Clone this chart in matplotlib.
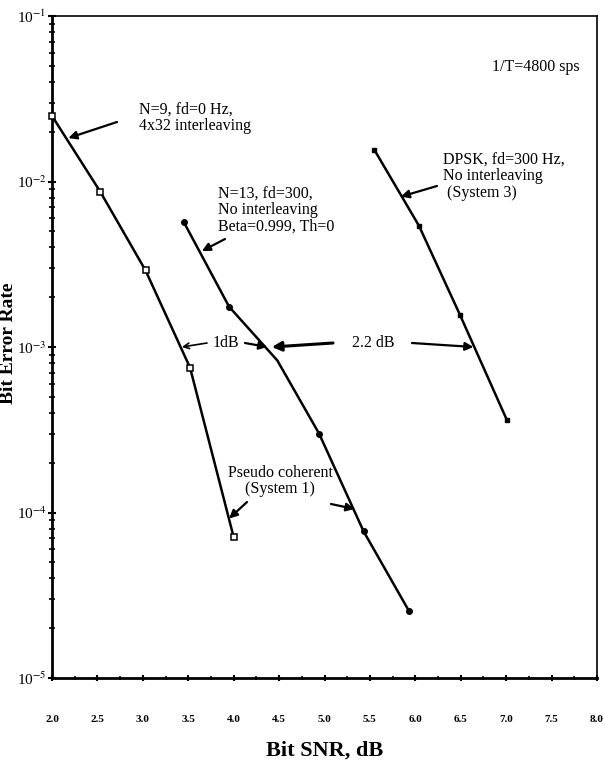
import matplotlib
matplotlib.use('Agg')
import matplotlib.pyplot as plt
from matplotlib.ticker import FixedLocator, LogLocator, NullFormatter

plt.rcParams['font.family'] = ['Liberation Serif', 'DejaVu Serif']
plt.rcParams['mathtext.fontset'] = 'stix'

# - Data
snr_n9 = [2.0, 2.53, 3.03, 3.52, 4.0]
ber_n9 = [0.0249, 0.0087, 0.0029, 0.00075, 0.000071]

snr_n13 = [3.45, 3.95, 4.48, 4.94, 5.43, 5.93]
ber_n13 = [0.0057, 0.00175, 0.00083, 0.0003, 0.000077, 0.0000254]
n13_marked = [True, True, False, True, True, True]

snr_dpsk = [5.55, 6.04, 6.49, 7.01]
ber_dpsk = [0.0155, 0.0054, 0.00157, 0.00036]

x_ticks = [2.0, 2.5, 3.0, 3.5, 4.0, 4.5, 5.0, 5.5, 6.0, 6.5, 7.0, 7.5, 8.0]
y_ticks = [1e-5, 1e-4, 1e-3, 1e-2, 1e-1]
y_tick_labels = ['10$^{-5}$', '10$^{-4}$', '10$^{-3}$', '10$^{-2}$', '10$^{-1}$']

W, H = 605, 762
fig = plt.figure(figsize=(W / 100, H / 100), dpi=100)
ax = fig.add_axes([52 / W, 1 - 678 / H, (597 - 52) / W, (678 - 16) / H])

ax.set_yscale('log')
ax.set_xlim(2.0, 8.0)
ax.set_ylim(1e-5, 1e-1)

# curves
ax.plot(snr_n9, ber_n9, color='black', lw=1.8, zorder=2)
ax.plot(snr_n9, ber_n9, ls='none', marker='s', ms=4.5, mfc='white',
        mec='black', mew=1.1, zorder=3, clip_on=False)

ax.plot(snr_n13, ber_n13, color='black', lw=1.8, zorder=2)
ax.plot([x for x, m in zip(snr_n13, n13_marked) if m],
        [y for y, m in zip(ber_n13, n13_marked) if m],
        ls='none', marker='o', ms=4, color='black', zorder=3)

ax.plot(snr_dpsk, ber_dpsk, color='black', lw=1.8, zorder=2)
ax.plot(snr_dpsk, ber_dpsk, ls='none', marker='s', ms=3.5, color='black', zorder=3)

# axes / ticks
for s in ['left', 'bottom']:
    ax.spines[s].set_linewidth(2.0)
for s in ['top', 'right']:
    ax.spines[s].set_linewidth(1.2)

ax.xaxis.set_major_locator(FixedLocator(x_ticks))
ax.set_xticklabels(['{:.1f}'.format(v) for v in x_ticks], fontsize=8, fontweight='bold')
ax.xaxis.set_minor_locator(FixedLocator([v + 0.25 for v in x_ticks[:-1]]))
ax.tick_params(axis='x', which='major', direction='inout', length=5, width=1.5, pad=24)
ax.tick_params(axis='x', which='minor', direction='inout', length=3, width=1.2)

ax.yaxis.set_major_locator(FixedLocator(y_ticks))
ax.set_yticklabels(y_tick_labels, fontsize=11)
ax.yaxis.set_minor_locator(LogLocator(base=10, subs=range(2, 10)))
ax.yaxis.set_minor_formatter(NullFormatter())
ax.tick_params(axis='y', which='major', direction='inout', length=6, width=1.5, pad=1)
ax.tick_params(axis='y', which='minor', direction='inout', length=4, width=1.2)
ax.tick_params(top=False, right=False, which='both')

ax.set_xlabel('Bit SNR, dB', fontsize=16, fontweight='bold', labelpad=12)
ax.set_ylabel('Bit Error Rate', fontsize=14, fontweight='bold')
ax.yaxis.set_label_coords(-0.064, 0.505)

# annotations (text placed in figure pixels, arrow heads on the curves)
def fp(x, y):
    return (x, H - y)

arrow = dict(arrowstyle='-|>', color='black', lw=1.6, mutation_scale=12,
             shrinkA=0, shrinkB=0)
txt = dict(fontsize=11.5, linespacing=1.05, va='center', ha='left')

ax.text(*fp(492, 67), '1/T=4800 sps', transform=None, **txt)

ax.text(*fp(139, 118), 'N=9, fd=0 Hz,\n4x32 interleaving', transform=None, **txt)
ax.annotate('', xy=(2.18, 0.0183), xycoords='data',
            xytext=fp(117, 122), textcoords='figure pixels', arrowprops=arrow)

ax.text(*fp(218, 210), 'N=13, fd=300,\nNo interleaving\nBeta=0.999, Th=0',
        transform=None, **txt)
ax.annotate('', xy=(3.65, 0.0038), xycoords='data',
            xytext=fp(225, 239), textcoords='figure pixels', arrowprops=arrow)

ax.text(*fp(443, 176), 'DPSK, fd=300 Hz,\nNo interleaving\n (System 3)',
        transform=None, **txt)
ax.annotate('', xy=(5.84, 0.0081), xycoords='data',
            xytext=fp(437, 186), textcoords='figure pixels', arrowprops=arrow)

ax.text(*fp(280, 481), 'Pseudo coherent\n(System 1)', transform=None,
        fontsize=11.5, linespacing=1.05, va='center', ha='center')
ax.annotate('', xy=(3.95, 0.000092), xycoords='data',
            xytext=fp(247, 502), textcoords='figure pixels', arrowprops=arrow)
ax.annotate('', xy=(5.33, 0.000105), xycoords='data',
            xytext=fp(331, 504), textcoords='figure pixels', arrowprops=arrow)

# 1 dB and 2.2 dB gaps at BER = 1e-3
ax.text(*fp(226, 343), '1dB', transform=None, fontsize=11.5, va='center', ha='center')
ax.annotate('', xy=(3.43, 1e-3), xycoords='data',
            xytext=fp(207, 343), textcoords='figure pixels',
            arrowprops=dict(arrowstyle='->', color='black', lw=1.2, shrinkA=0, shrinkB=0))
ax.annotate('', xy=(4.37, 1e-3), xycoords='data',
            xytext=fp(245, 343), textcoords='figure pixels', arrowprops=arrow)

ax.text(*fp(373, 343), '2.2 dB', transform=None, fontsize=11.5, va='center', ha='center')
ax.annotate('', xy=(4.42, 1e-3), xycoords='data',
            xytext=fp(333, 343), textcoords='figure pixels',
            arrowprops=dict(arrowstyle='-|>', color='black', lw=2.2, mutation_scale=14,
                            shrinkA=0, shrinkB=0))
ax.annotate('', xy=(6.64, 1e-3), xycoords='data',
            xytext=fp(412, 343), textcoords='figure pixels', arrowprops=arrow)

fig.savefig('out.png', dpi=100)
